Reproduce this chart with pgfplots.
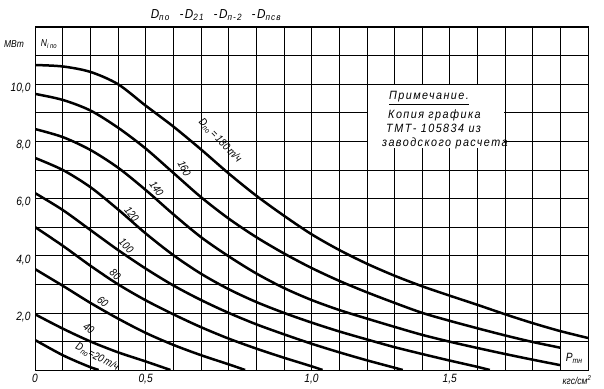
\documentclass[border=0pt]{standalone}
\usepackage{fontspec}
\setmainfont{Liberation Sans}[FakeStretch=0.85]
\newfontfamily\notefont{Liberation Sans}[FakeStretch=0.9, LetterSpace=12]
\usepackage{pgfplots}
\pgfplotsset{compat=1.18}
\begin{document}
\begin{tikzpicture}[x=1pt,y=1pt]
\path[use as bounding box] (0,0) rectangle (604,388);
\begin{axis}[
  at={(35pt,18pt)}, anchor=south west,
  scale only axis, width=553pt, height=343pt,
  xmin=0, xmax=2, ymin=0, ymax=12,
  axis line style={black, line width=1pt},
  grid=major, grid style={black, line width=0.6pt},
  major tick length=0pt,
  xtick={0,0.1,0.2,0.3,0.4,0.5,0.6,0.7,0.8,0.9,1.0,1.1,1.2,1.3,1.4,1.5,1.6,1.7,1.8,1.9,2.0},
  xticklabels={0,,,,{0,5},,,,,,{1,0},,,,,{1,5},,,,,},
  ytick={0,1,2,3,4,5,6,7,8,9,10,11,12},
  yticklabels={,,{2,0},,{4,0},,{6,0},,{8,0},,{10,0},,},
  ticklabel style={font=\itshape\fontsize{12}{12}\selectfont},
  yticklabel style={yshift=-4pt, xshift=-1pt},
  xticklabel style={yshift=-1pt},
  clip=true,
  curve/.style={black, solid, line width=2.5pt, no marks, smooth, tension=0.5},
]
% D = 180
\addplot[curve] coordinates {(0,10.67)(0.1,10.62)(0.2,10.43)(0.3,10.0)(0.4,9.25)(0.5,8.52)(0.6,7.72)(0.7,6.88)(0.8,6.1)(0.9,5.4)(1.0,4.75)(1.1,4.2)(1.2,3.72)(1.3,3.3)(1.4,2.93)(1.5,2.6)(1.6,2.28)(1.7,1.95)(1.8,1.64)(1.9,1.36)(2.0,1.12)};
% D = 160
\addplot[curve] coordinates {(0,9.66)(0.1,9.45)(0.2,9.08)(0.3,8.48)(0.4,7.75)(0.5,6.9)(0.6,6.05)(0.7,5.3)(0.8,4.65)(0.9,4.08)(1.0,3.57)(1.1,3.12)(1.2,2.72)(1.3,2.35)(1.4,2.0)(1.5,1.72)(1.6,1.46)(1.7,1.21)(1.8,0.98)(1.9,0.78)};
% D = 140
\addplot[curve] coordinates {(0,8.43)(0.1,8.15)(0.2,7.7)(0.3,7.08)(0.4,6.3)(0.5,5.45)(0.6,4.65)(0.7,3.98)(0.8,3.38)(0.9,2.87)(1.0,2.45)(1.1,2.1)(1.2,1.8)(1.3,1.51)(1.4,1.23)(1.5,0.99)(1.6,0.77)(1.7,0.56)(1.8,0.36)(1.9,0.17)};
% D = 120
\addplot[curve] coordinates {(0,7.42)(0.1,7.0)(0.2,6.4)(0.3,5.62)(0.4,4.78)(0.5,4.02)(0.6,3.37)(0.7,2.83)(0.8,2.38)(0.9,2.0)(1.0,1.66)(1.1,1.35)(1.2,1.07)(1.3,0.8)(1.4,0.56)(1.5,0.33)(1.6,0.11)(1.645,0)};
% D = 100
\addplot[curve] coordinates {(0,6.19)(0.1,5.6)(0.2,4.9)(0.3,4.2)(0.4,3.55)(0.5,2.96)(0.6,2.45)(0.7,2.0)(0.8,1.6)(0.9,1.25)(1.0,0.92)(1.1,0.62)(1.2,0.34)(1.3,0.08)(1.33,0)};
% D = 80
\addplot[curve] coordinates {(0,5.0)(0.1,4.35)(0.2,3.65)(0.3,3.0)(0.4,2.44)(0.5,1.95)(0.6,1.5)(0.7,1.1)(0.8,0.75)(0.9,0.43)(1.0,0.13)(1.04,0)};
% D = 60
\addplot[curve] coordinates {(0,3.53)(0.1,2.95)(0.2,2.35)(0.3,1.8)(0.4,1.3)(0.5,0.88)(0.6,0.52)(0.7,0.2)(0.76,0)};
% D = 40
\addplot[curve] coordinates {(0,1.95)(0.1,1.45)(0.2,1.0)(0.3,0.62)(0.4,0.3)(0.49,0)};
% D = 20
\addplot[curve] coordinates {(0,1.05)(0.05,0.78)(0.1,0.52)(0.15,0.3)(0.2,0.1)(0.23,0)};
% note box and P box
\fill[white] (axis cs:1.205,7.75) rectangle (axis cs:1.695,9.98);
\filldraw[fill=white, draw=black, line width=0.6pt] (axis cs:1.9,0) rectangle (axis cs:2.0,1.0);
\node[font=\itshape\fontsize{12}{12}\selectfont] at (axis cs:1.95,0.42) {P\textsubscript{тн}};
% curve labels
\begin{scope}[every node/.style={font=\itshape\fontsize{11}{11}\selectfont, inner sep=0pt}]
\node[rotate=-46] at (axis cs:0.67,8.02) {D\textsubscript{по}\,=\,180\,т/ч};
\node[rotate=-63] at (axis cs:0.54,7.05) {160};
\node[rotate=-57] at (axis cs:0.44,6.35) {140};
\node[rotate=-52] at (axis cs:0.35,5.45) {120};
\node[rotate=-46] at (axis cs:0.33,4.35) {100};
\node[rotate=-43] at (axis cs:0.29,3.35) {80};
\node[rotate=-40] at (axis cs:0.245,2.38) {60};
\node[rotate=-35] at (axis cs:0.195,1.45) {40};
\node[rotate=-28] at (axis cs:0.225,0.45) {D\textsubscript{по}=20\,т/ч};
\end{scope}
\end{axis}
% texts outside / absolute
\begin{scope}[every node/.style={inner sep=0pt}]
\node[font=\notefont\itshape\fontsize{13}{13}\selectfont] at (216,373) {D\textsubscript{по}\ \ -D\textsubscript{21}\ \ -D\textsubscript{п-2}\ \ -D\textsubscript{псв}};
\node[font=\itshape\fontsize{10}{10}\selectfont] at (14,344) {МВт};
\node[font=\itshape\fontsize{10}{10}\selectfont] at (49,344) {N\textsubscript{i по}};
\node[font=\itshape\fontsize{10}{10}\selectfont] at (577,8) {кгс/см\textsuperscript{2}};
\node[font=\notefont\itshape\fontsize{12}{12}\selectfont] at (429,290) {\underline{Примечание.}};
\node[font=\notefont\itshape\fontsize{12}{12}\selectfont, anchor=west] at (388,273) {Копия графика};
\node[font=\notefont\itshape\fontsize{12}{12}\selectfont, anchor=west] at (386,260) {ТМТ- 105834 из};
\node[font=\notefont\itshape\fontsize{12}{12}\selectfont, anchor=west] at (382,245) {заводского расчета};
\end{scope}
\end{tikzpicture}
\end{document}
